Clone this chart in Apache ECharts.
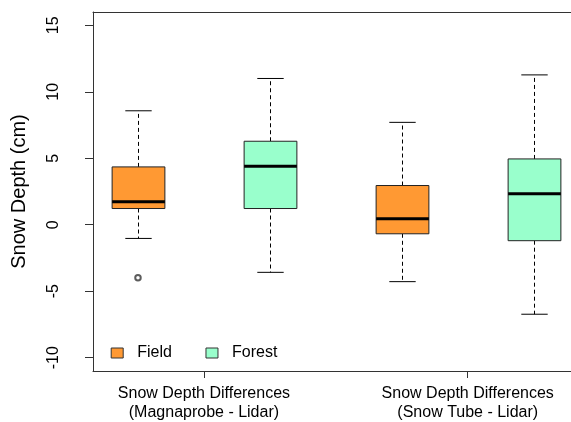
<!DOCTYPE html>
<html>
<head>
<meta charset="utf-8">
<script src="https://cdn.jsdelivr.net/npm/echarts@6/dist/echarts.min.js"></script>
<style>html,body{margin:0;padding:0;background:#fff}#c{width:571px;height:422px}</style>
</head>
<body>
<div id="c"></div>
<script>
// Data (min, Q1, median, Q3, max)
const groupLabels = ['Snow Depth Differences\n(Magnaprobe - Lidar)', 'Snow Depth Differences\n(Snow Tube - Lidar)'];
const groupTickPos = [1.5, 3.5];
const seriesNames = ['Field', 'Forest'];
const fieldPos = [1, 3];
const forestPos = [2, 4];
const fieldStats = [
  [-1.03, 1.22, 1.73, 4.35, 8.57],
  [-4.28, -0.68, 0.45, 2.95, 7.70]
];
const forestStats = [
  [-3.58, 1.22, 4.40, 6.28, 11.00],
  [-6.73, -1.20, 2.33, 4.95, 11.27]
];
const outliers = [[1, -3.98]];
const yTicks = [-10, -5, 0, 5, 10, 15];
const colors = ['#FF9933', '#99FFCC'];

const FONT = 'Liberation Sans';
const X_MIN = 0.659, X_MAX = 0.659 + 478 / 131.9;

function makeData(pos, stats) {
  return pos.map((p, i) => [p].concat(stats[i]));
}

function renderBox(fill) {
  return function (params, api) {
    const x = api.value(0);
    const mn = api.value(1), q1 = api.value(2), md = api.value(3), q3 = api.value(4), mx = api.value(5);
    const hw = api.size([0.2, 0])[0];
    const cw = api.size([0.1, 0])[0];
    const pMin = api.coord([x, mn]), pQ1 = api.coord([x, q1]), pMd = api.coord([x, md]);
    const pQ3 = api.coord([x, q3]), pMax = api.coord([x, mx]);
    const cx = Math.round(pMin[0]) + 0.5;
    const line = (x1, y1, x2, y2, style) => ({type: 'line', shape: {x1, y1, x2, y2}, style: Object.assign({stroke: '#000', lineWidth: 1}, style)});
    return {
      type: 'group',
      children: [
        line(cx, pQ3[1], cx, pMax[1], {lineDash: [4, 3]}),
        line(cx, pQ1[1], cx, pMin[1], {lineDash: [4, 3]}),
        line(cx - cw, pMax[1], cx + cw, pMax[1], {}),
        line(cx - cw, pMin[1], cx + cw, pMin[1], {}),
        {type: 'rect', shape: {x: cx - hw, y: pQ3[1], width: 2 * hw, height: pQ1[1] - pQ3[1]}, style: {fill: fill, stroke: '#222', lineWidth: 1}},
        line(cx - hw, pMd[1], cx + hw, pMd[1], {lineWidth: 3})
      ]
    };
  };
}

const chart = echarts.init(document.getElementById('c'), null, {renderer: 'canvas'});
chart.setOption({
  animation: false,
  backgroundColor: '#fff',
  grid: {left: 93, top: 12, width: 478, height: 360.5, show: false, containLabel: false},
  legend: {
    data: seriesNames,
    left: 105.7, top: 340,
    orient: 'horizontal',
    icon: 'rect',
    itemWidth: 12, itemHeight: 10, itemGap: 33.6,
    itemStyle: {borderColor: '#333', borderWidth: 1},
    textStyle: {fontFamily: FONT, fontSize: 16, color: '#000', padding: [0, 0, 0, 9]},
    selectedMode: false
  },
  xAxis: [{
    type: 'value', min: X_MIN, max: X_MAX, position: 'bottom',
    splitLine: {show: false},
    axisLine: {show: true, onZero: false, lineStyle: {color: '#333'}},
    axisTick: {show: true, length: 7, customValues: groupTickPos, lineStyle: {color: '#333'}},
    axisLabel: {
      customValues: groupTickPos,
      formatter: v => { const i = groupTickPos.indexOf(v); return i >= 0 ? groupLabels[i] : ''; },
      fontFamily: FONT, fontSize: 16, color: '#000', lineHeight: 19, margin: 13
    }
  }, {
    type: 'value', min: X_MIN, max: X_MAX, position: 'top',
    splitLine: {show: false},
    axisLine: {show: true, onZero: false, lineStyle: {color: '#333'}},
    axisTick: {show: false}, axisLabel: {show: false}
  }],
  yAxis: {
    type: 'value', min: -11, max: 16,
    name: 'Snow Depth (cm)', nameLocation: 'middle', nameGap: 64,
    nameTextStyle: {fontFamily: FONT, fontSize: 20, color: '#000'},
    splitLine: {show: false},
    axisLine: {show: true, onZero: false, lineStyle: {color: '#333'}},
    axisTick: {show: true, length: 8, customValues: yTicks, lineStyle: {color: '#333'}},
    axisLabel: {customValues: yTicks, rotate: 90, fontFamily: FONT, fontSize: 16, color: '#000', margin: 31}
  },
  series: [
    {name: seriesNames[0], type: 'custom', renderItem: renderBox(colors[0]), data: makeData(fieldPos, fieldStats), itemStyle: {color: colors[0]}, encode: {x: 0, y: [1, 2, 3, 4, 5]}},
    {name: seriesNames[1], type: 'custom', renderItem: renderBox(colors[1]), data: makeData(forestPos, forestStats), itemStyle: {color: colors[1]}, encode: {x: 0, y: [1, 2, 3, 4, 5]}},
    {name: 'outlier', type: 'scatter', data: outliers, symbol: 'emptyCircle', symbolSize: 5.5, itemStyle: {color: '#333', borderColor: '#333', borderWidth: 0.7}}
  ]
});
</script>
</body>
</html>
